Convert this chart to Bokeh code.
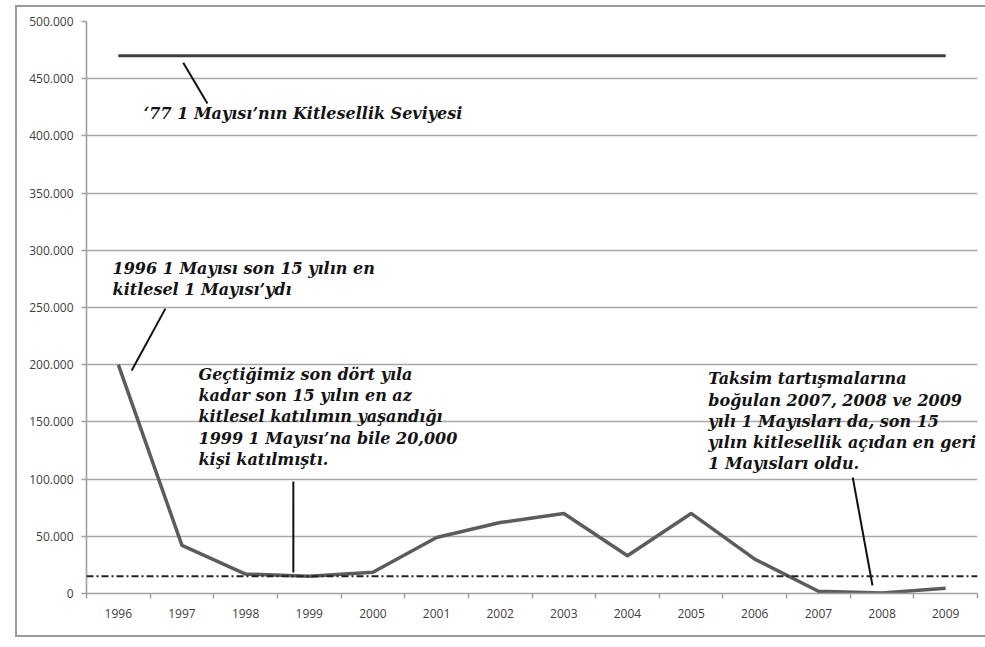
from bokeh.plotting import figure
from bokeh.layouts import column
from bokeh.models import FixedTicker, Range1d, Span, Label
from bokeh.embed import file_html
from bokeh.resources import INLINE

# ---- data ----
years = [1996, 1997, 1998, 1999, 2000, 2001, 2002, 2003, 2004, 2005, 2006, 2007, 2008, 2009]
participants = [200000, 42000, 17000, 15000, 18500, 49000, 62000, 70000, 33000, 70000, 30000, 2000, 500, 4500]
level_1977 = 470000
threshold_1999 = 15000
y_ticks = [0, 50000, 100000, 150000, 200000, 250000, 300000, 350000, 400000, 450000, 500000]
y_tick_labels = ["0", "50.000", "100.000", "150.000", "200.000", "250.000",
                 "300.000", "350.000", "400.000", "450.000", "500.000"]

note_1977 = "\u201877 1 May\u0131s\u0131\u2019n\u0131n Kitlesellik Seviyesi"
note_1996 = "1996 1 May\u0131s\u0131 son 15 y\u0131l\u0131n en\nkitlesel 1 May\u0131s\u0131\u2019yd\u0131"
note_1999 = ("Ge\u00e7ti\u011fimiz son d\u00f6rt y\u0131la\nkadar son 15 y\u0131l\u0131n en az\n"
             "kitlesel kat\u0131l\u0131m\u0131n ya\u015fand\u0131\u011f\u0131\n1999 1 May\u0131s\u0131\u2019na bile 20,000\n"
             "ki\u015fi kat\u0131lm\u0131\u015ft\u0131.")
note_2008 = ("Taksim tart\u0131\u015fmalar\u0131na\nbo\u011fulan 2007, 2008 ve 2009\n"
             "y\u0131l\u0131 1 May\u0131slar\u0131 da, son 15\ny\u0131l\u0131n kitlesellik a\u00e7\u0131dan en geri\n"
             "1 May\u0131slar\u0131 oldu.")

# annotation anchors (data units)
notes = [
    (note_1977, 1996.40, 427500),
    (note_1996, 1995.91, 292500),
    (note_1999, 1997.26, 200000),
    (note_2008, 2005.27, 196000),
]
leaders_x0 = [1997.02, 1996.74, 1998.75, 2007.54]
leaders_y0 = [464000, 249000, 97900, 101400]
leaders_x1 = [1997.40, 1996.21, 1998.75, 2007.85]
leaders_y1 = [428300, 195000, 18400, 7000]

p = figure(frame_width=891, frame_height=572,
           x_range=Range1d(years[0] - 0.5, years[-1] + 0.5),
           y_range=Range1d(y_ticks[0], y_ticks[-1]),
           output_backend="svg", toolbar_location=None,
           min_border_left=69, min_border_right=8,
           min_border_top=14, min_border_bottom=42)
p.outline_line_color = None
p.background_fill_color = "white"
p.border_fill_color = "white"

p.xgrid.visible = False
p.ygrid.grid_line_color = "#a8a8a8"
p.ygrid.grid_line_width = 1.6

# x axis: labels at centers, ticks at category boundaries
p.xaxis.ticker = FixedTicker(ticks=years,
                             minor_ticks=[y - 0.5 for y in years] + [years[-1] + 0.5])
p.xaxis.major_tick_line_color = None
p.xaxis.major_tick_in = 0
p.xaxis.major_tick_out = 0
p.xaxis.minor_tick_in = 0
p.xaxis.minor_tick_out = 5
p.xaxis.minor_tick_line_color = "#a0a0a0"
p.xaxis.minor_tick_line_width = 1.5
p.xaxis.major_label_standoff = 10

p.yaxis.ticker = FixedTicker(ticks=y_ticks)
p.yaxis.major_label_overrides = dict(zip(y_ticks, y_tick_labels))
p.yaxis.minor_tick_line_color = None
p.yaxis.major_tick_in = 0
p.yaxis.major_tick_out = 5
p.yaxis.major_tick_line_color = "#a0a0a0"
p.yaxis.major_tick_line_width = 1.5
p.yaxis.major_label_standoff = 8

for ax in (p.xaxis, p.yaxis):
    ax.axis_line_color = "#a0a0a0"
    ax.axis_line_width = 1.6
    ax.major_label_text_font = "Open Sans"
    ax.major_label_text_font_size = "12px"
    ax.major_label_text_color = "#404040"

# threshold dash-dot line
p.add_layout(Span(location=threshold_1999, dimension="width", line_color="#222222",
                  line_width=2, line_dash="7 3 2 3"))

# 1977 level line
p.line([years[0], years[-1]], [level_1977, level_1977], line_color="#404040", line_width=3)

# main series
p.line(years, participants, line_color="#5c5c5c", line_width=3.5, line_join="round")

# leader lines
p.segment(leaders_x0, leaders_y0, leaders_x1, leaders_y1, line_color="#111111", line_width=2)

for txt, x, y in notes:
    p.add_layout(Label(x=x, y=y, text=txt, text_font="DejaVu Serif",
                       text_font_style="bold italic", text_font_size="16px",
                       text_baseline="top", text_align="left", text_color="#141414",
                       text_line_height=1.12))

# outer chart border (left, top, bottom; right edge runs off the page)
page = column(p, styles={"margin-left": "15px", "margin-top": "5px",
                         "border-top": "2px solid #9a9a9a",
                         "border-left": "2px solid #9a9a9a",
                         "border-bottom": "2px solid #9a9a9a"})

open("out.html", "w").write(file_html(page, INLINE))
